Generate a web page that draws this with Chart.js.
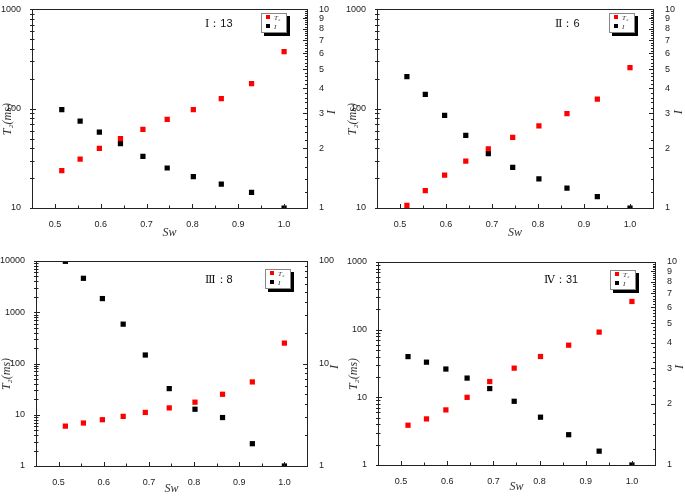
<!DOCTYPE html>
<html>
<head>
<meta charset="utf-8">
<script src="https://cdn.jsdelivr.net/npm/chart.js@4.4.0/dist/chart.umd.min.js"></script>
<style>
  body { margin: 0; background: #fff; }
  #wrap { position: relative; width: 685px; height: 497px; overflow: hidden; }
  canvas { position: absolute; }
  .tag { position: absolute; font: 11px 'Liberation Sans', Arial, sans-serif; color: #111; white-space: nowrap; }
  .tag .rn { font-family: 'Liberation Serif', 'DejaVu Serif', serif; }
  .legend { position: absolute; width: 24px; height: 18px; background: #fff; border: 1px solid #888;
            box-shadow: 3px 3px 0 #000; font: italic 7px 'Liberation Serif', serif; color: #333; }
  .legend div { height: 9px; line-height: 9px; padding-left: 4px; }
  .legend span { display: inline-block; width: 4px; height: 4px; margin-right: 4px; vertical-align: 1px; }
</style>
</head>
<body>
<div id="wrap">
  <canvas id="c1" width="342" height="248" style="left:0;top:0"></canvas>
  <canvas id="c2" width="343" height="248" style="left:342px;top:0"></canvas>
  <canvas id="c3" width="342" height="249" style="left:0;top:248px"></canvas>
  <canvas id="c4" width="343" height="249" style="left:342px;top:248px"></canvas>
</div>
<script>
// Sw values (same for all four samples)
const sw = [0.515, 0.555, 0.597, 0.643, 0.692, 0.745, 0.802, 0.863, 0.929, 1.0];

// T2 (ms) and resistivity index I
const t2I   = [23.8, 31, 39.8, 49.9, 62, 78, 98, 126, 179, 375];
const idxI  = [3.13, 2.74, 2.41, 2.11, 1.82, 1.59, 1.44, 1.32, 1.20, 1.0];
const t2II  = [10.6, 15.0, 21.4, 29.7, 39.5, 51.5, 67, 89, 125, 259];
const idxII = [4.59, 3.73, 2.93, 2.32, 1.88, 1.60, 1.40, 1.26, 1.14, 1.0];
const t2III  = [6.0, 6.9, 8.0, 9.3, 11.1, 13.6, 17.6, 25.1, 43.7, 250];
const idxIII = [99.3, 67.8, 43.0, 24.2, 12.1, 5.69, 3.58, 2.97, 1.65, 1.0];
const t2IV  = [3.87, 4.80, 6.52, 10.0, 17.1, 27.0, 40.1, 59.0, 92, 261];
const idxIV = [3.42, 3.21, 2.97, 2.68, 2.38, 2.06, 1.72, 1.41, 1.17, 1.0];

// tick labels
const swTicks = [0.5, 0.6, 0.7, 0.8, 0.9, 1.0];
const t2Ticks12 = [10, 100, 1000];
const t2Ticks3 = [1, 10, 100, 1000, 10000];
const t2Ticks4 = [1, 10, 100, 1000];
const iTicks = [1, 2, 3, 4, 5, 6, 7, 8, 9, 10];
const iTicks3 = [1, 10, 100];

const tags = ['Ⅰ', 'Ⅱ', 'Ⅲ', 'Ⅳ'];
const tagCounts = ['13', '6', '8', '31'];

// layout of each panel (canvas-relative plot area, title offsets, overlays)
const panels = [
  { id: 'c1', t2: t2I, idx: idxI, t2Ticks: t2Ticks12, iTicks: iTicks, iStep: 0.2,
    area: [32, 5, 307, 208], w: 342, h: 248, padL: 1, padR: 4.8, padB: 7.8,
    tag: [205, 16], legend: [261, 13] },
  { id: 'c2', t2: t2II, idx: idxII, t2Ticks: t2Ticks12, iTicks: iTicks, iStep: 0.2,
    area: [35, 5, 311, 208], w: 343, h: 248, padL: 4, padR: 1.1, padB: 7.8,
    tag: [555, 16], legend: [609, 13] },
  { id: 'c3', t2: t2III, idx: idxIII, t2Ticks: t2Ticks3, iTicks: iTicks3, iStep: 0,
    area: [36, 13, 307, 218], w: 342, h: 249, padL: 0, padR: 1.8, padB: 1.1,
    tag: [205, 272], legend: [265, 269] },
  { id: 'c4', t2: t2IV, idx: idxIV, t2Ticks: t2Ticks4, iTicks: iTicks, iStep: 0.2,
    area: [36, 14, 313, 217], w: 343, h: 249, padL: 4.8, padR: 0, padB: 2.8,
    tag: [544, 272], legend: [610, 270] }
];

function logMinors(min, max) {
  const out = [];
  for (let d = min; d < max; d *= 10) {
    for (let m = 2; m < 10; m++) out.push(m * d);
  }
  return out;
}

function stepMinors(min, max, step) {
  const out = [];
  for (let v = min + step; v < max - 1e-9; v += step) {
    if (Math.abs(v - Math.round(v)) > 1e-6) out.push(v);
  }
  return out;
}

// frame plus inward ticks, like the original plot
const frame = {
  id: 'frame',
  afterDraw(chart, args, opts) {
    const { ctx, chartArea: a, scales } = chart;
    ctx.save();
    ctx.strokeStyle = '#222';
    ctx.lineWidth = 1;
    ctx.strokeRect(Math.round(a.left) + 0.5, Math.round(a.top) + 0.5,
      Math.round(a.right - a.left), Math.round(a.bottom - a.top));

    const tick = (scale, values, len, side) => {
      values.forEach(v => {
        const p = Math.round(scale.getPixelForValue(v)) + 0.5;
        ctx.beginPath();
        if (side === 'bottom') { ctx.moveTo(p, a.bottom); ctx.lineTo(p, a.bottom - len); }
        if (side === 'left') { ctx.moveTo(a.left - 2, p); ctx.lineTo(a.left + len, p); }
        if (side === 'right') { ctx.moveTo(a.right, p); ctx.lineTo(a.right - len, p); }
        ctx.stroke();
      });
    };
    tick(scales.x, swTicks, 4, 'bottom');
    tick(scales.x, [0.55, 0.65, 0.75, 0.85, 0.95], 2.5, 'bottom');
    tick(scales.y, opts.t2Ticks, 4, 'left');
    tick(scales.y, logMinors(scales.y.min, scales.y.max), 2.5, 'left');
    tick(scales.y1, opts.iTicks, 4, 'right');
    const minors = opts.iStep ? stepMinors(scales.y1.min, scales.y1.max, opts.iStep)
                              : logMinors(scales.y1.min, scales.y1.max);
    tick(scales.y1, minors, 2, 'right');
    ctx.restore();
  }
};

const tickFont = { family: "'Liberation Sans', Arial, sans-serif", size: 9 };
const titleFont = { family: "'Liberation Serif', 'Times New Roman', serif", size: 12, style: 'italic' };

panels.forEach((p, n) => {
  const [L, T, R, B] = p.area;
  const chart = new Chart(document.getElementById(p.id), {
    type: 'scatter',
    data: {
      datasets: [
        { label: 'T₂', data: sw.map((x, i) => ({ x, y: p.t2[i] })), yAxisID: 'y',
          backgroundColor: '#ff0000', borderWidth: 0, pointStyle: 'rect', pointRadius: 3.7, clip: 0 },
        { label: 'I', data: sw.map((x, i) => ({ x, y: p.idx[i] })), yAxisID: 'y1',
          backgroundColor: '#000000', borderWidth: 0, pointStyle: 'rect', pointRadius: 3.7, clip: 0 }
      ]
    },
    options: {
      responsive: false,
      animation: false,
      layout: { padding: { top: T, left: 0, right: 0, bottom: 0 } },
      plugins: { legend: { display: false }, tooltip: { enabled: false }, frame: p },
      scales: {
        x: {
          type: 'linear', min: 0.45, max: 1.05,
          grid: { display: false }, border: { display: false },
          afterBuildTicks: s => { s.ticks = swTicks.map(v => ({ value: v })); },
          afterFit: s => { s.height = p.h - B; },
          ticks: { font: tickFont, color: '#222', padding: 3, autoSkip: false, maxRotation: 0,
                   callback: v => v.toFixed(1) },
          title: { display: true, text: 'Sw', font: titleFont, color: '#333',
                   padding: { top: 0, bottom: p.padB } }
        },
        y: {
          type: 'logarithmic', position: 'left',
          min: p.t2Ticks[0], max: p.t2Ticks[p.t2Ticks.length - 1],
          grid: { display: false }, border: { display: false },
          afterBuildTicks: s => { s.ticks = p.t2Ticks.map(v => ({ value: v })); },
          afterFit: s => { s.width = L; },
          ticks: { font: tickFont, color: '#222', padding: 3, autoSkip: false, callback: v => String(v) },
          title: { display: true, text: 'T₂(ms)       ', font: titleFont, color: '#333',
                   padding: { top: p.padL, bottom: 0 } }
        },
        y1: {
          type: 'logarithmic', position: 'right',
          min: p.iTicks[0], max: p.iTicks[p.iTicks.length - 1],
          grid: { display: false }, border: { display: false },
          afterBuildTicks: s => { s.ticks = p.iTicks.map(v => ({ value: v })); },
          afterFit: s => { s.width = p.w - R; },
          ticks: { font: tickFont, color: '#222', padding: 4, autoSkip: false, callback: v => String(v) },
          title: { display: true, text: '  I', font: titleFont, color: '#333',
                   padding: { top: p.padR, bottom: 0 } }
        }
      }
    },
    plugins: [frame]
  });

  const wrap = document.getElementById('wrap');
  const tag = document.createElement('div');
  tag.className = 'tag';
  tag.style.left = p.tag[0] + 'px';
  tag.style.top = p.tag[1] + 'px';
  tag.innerHTML = '<span class="rn">' + tags[n] + '</span>：' + tagCounts[n];
  wrap.appendChild(tag);

  const lg = document.createElement('div');
  lg.className = 'legend';
  lg.style.left = p.legend[0] + 'px';
  lg.style.top = p.legend[1] + 'px';
  lg.innerHTML = chart.data.datasets.map(d =>
    '<div><span style="background:' + d.backgroundColor + '"></span>' + d.label + '</div>').join('');
  wrap.appendChild(lg);
});
</script>
</body>
</html>
